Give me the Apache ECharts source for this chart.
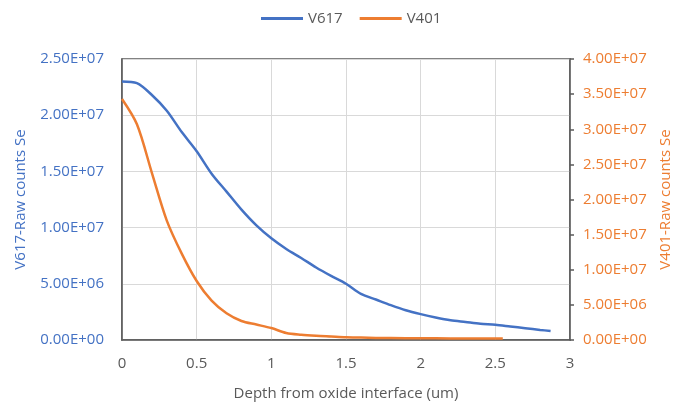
<!DOCTYPE html>
<html><head><meta charset="utf-8">
<script src="https://cdn.jsdelivr.net/npm/echarts@6/dist/echarts.min.js"></script>
<style>html,body{margin:0;padding:0;background:#fff}#c{width:680px;height:402px}</style>
</head><body><div id="c"></div>
<script>
const seriesNames = ['V617', 'V401'];
const v617Depth = [0, 0.1, 0.2, 0.3, 0.4, 0.5, 0.6, 0.7, 0.8, 0.9, 1.0, 1.1, 1.2, 1.3, 1.4, 1.5, 1.6, 1.7, 1.8, 1.9, 2.0, 2.1, 2.2, 2.3, 2.4, 2.5, 2.6, 2.7, 2.8, 2.87];
const v617Counts = [23.0e6, 22.85e6, 21.8e6, 20.4e6, 18.5e6, 16.8e6, 14.8e6, 13.2e6, 11.6e6, 10.2e6, 9.05e6, 8.1e6, 7.3e6, 6.45e6, 5.7e6, 5.0e6, 4.1e6, 3.6e6, 3.1e6, 2.65e6, 2.3e6, 2.0e6, 1.75e6, 1.6e6, 1.45e6, 1.35e6, 1.2e6, 1.05e6, 0.9e6, 0.8e6];
const v401Depth = [0, 0.1, 0.2, 0.3, 0.4, 0.5, 0.6, 0.7, 0.8, 0.9, 1.0, 1.1, 1.2, 1.3, 1.4, 1.5, 1.6, 1.7, 1.8, 2.0, 2.2, 2.4, 2.55];
const v401Counts = [34.3e6, 30.7e6, 23.8e6, 17.0e6, 12.3e6, 8.4e6, 5.6e6, 3.8e6, 2.7e6, 2.2e6, 1.7e6, 1.0e6, 0.75e6, 0.6e6, 0.5e6, 0.4e6, 0.35e6, 0.3e6, 0.28e6, 0.25e6, 0.23e6, 0.22e6, 0.2e6];
const xTitle = 'Depth from oxide interface (um)';
const leftTitle = 'V617-Raw counts Se';
const rightTitle = 'V401-Raw counts Se';

const BLUE = '#4472C4', ORANGE = '#ED7D31', DARK = '#595959';
const FONT = '"Open Sans", sans-serif';
function sci(v) {
  if (v === 0) return '0.00E+00';
  const e = Math.floor(Math.log10(Math.abs(v)) + 1e-9);
  const m = v / Math.pow(10, e);
  const es = (e < 0 ? '-' : '+') + String(Math.abs(e)).padStart(2, '0');
  return m.toFixed(2) + 'E' + es;
}
const chart = echarts.init(document.getElementById('c'), null, {renderer: 'canvas'});
chart.setOption({
  animation: false,
  textStyle: {fontFamily: FONT},
  legend: {
    top: 6, left: 256, itemWidth: 42, itemHeight: 3, itemGap: 17, icon: 'rect',
    textStyle: {color: DARK, fontSize: 15, fontFamily: FONT},
    data: seriesNames
  },
  grid: {left: 122, right: 110, top: 59, bottom: 62, show: true, borderColor: DARK, borderWidth: 1.5,
         containLabel: false, outerBoundsMode: 'none'},
  xAxis: {
    type: 'value', min: 0, max: 3, interval: 0.5,
    name: xTitle, nameLocation: 'middle', nameGap: 46,
    nameTextStyle: {color: DARK, fontSize: 15, fontFamily: FONT},
    axisLine: {show: true, lineStyle: {color: DARK, width: 1.5}},
    axisTick: {show: false},
    axisLabel: {color: DARK, fontSize: 15, margin: 16, fontFamily: FONT},
    splitLine: {show: true, lineStyle: {color: '#D9D9D9', width: 1}}
  },
  yAxis: [{
    type: 'value', min: 0, max: 2.5e7, interval: 5e6, position: 'left',
    name: leftTitle, nameLocation: 'middle', nameGap: 94,
    nameTextStyle: {color: BLUE, fontSize: 15, fontFamily: FONT},
    axisLine: {show: true, lineStyle: {color: DARK, width: 1.5}},
    axisTick: {show: false},
    axisLabel: {color: BLUE, fontSize: 15, margin: 18, formatter: sci, fontFamily: FONT},
    splitLine: {show: true, lineStyle: {color: '#D9D9D9', width: 1}}
  }, {
    type: 'value', min: 0, max: 4e7, interval: 5e6, position: 'right',
    name: rightTitle, nameLocation: 'middle', nameGap: 88,
    nameTextStyle: {color: ORANGE, fontSize: 15, fontFamily: FONT},
    axisLine: {show: true, lineStyle: {color: DARK, width: 1.5}},
    axisTick: {show: true, inside: false, length: 4, lineStyle: {color: DARK, width: 1.5}},
    axisLabel: {color: ORANGE, fontSize: 15, margin: 13, formatter: sci, fontFamily: FONT},
    splitLine: {show: false}
  }],
  series: [{
    name: seriesNames[0], type: 'line', yAxisIndex: 0, symbol: 'none', smooth: 0.3,
    lineStyle: {color: BLUE, width: 2.5}, itemStyle: {color: BLUE},
    data: v617Depth.map((d, i) => [d, v617Counts[i]])
  }, {
    name: seriesNames[1], type: 'line', yAxisIndex: 1, symbol: 'none', smooth: 0.3,
    lineStyle: {color: ORANGE, width: 2.5}, itemStyle: {color: ORANGE},
    data: v401Depth.map((d, i) => [d, v401Counts[i]])
  }]
});
</script></body></html>
